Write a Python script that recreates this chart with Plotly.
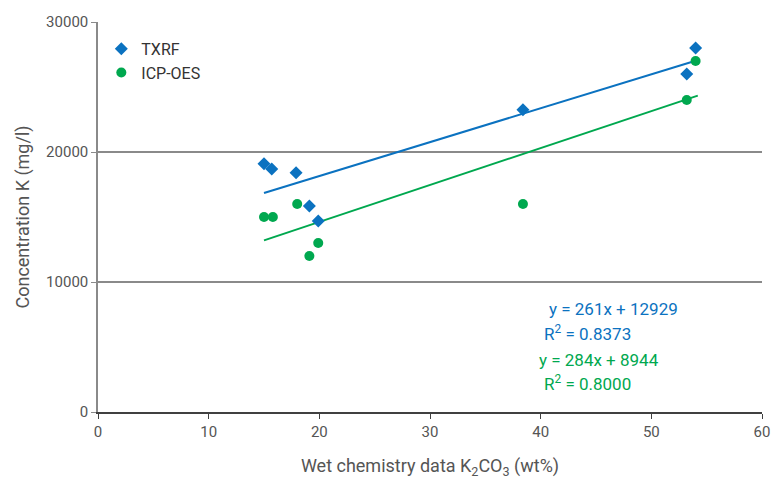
import plotly.graph_objects as go
import numpy as np

# Data
txrf_x = [15.0, 15.7, 17.9, 19.1, 19.9, 38.4, 53.2, 54.0]
txrf_y = [19100, 18700, 18400, 15850, 14700, 23250, 26000, 28000]
icp_x = [15.0, 15.8, 18.0, 19.1, 19.9, 38.4, 53.2, 54.0]
icp_y = [15000, 15000, 16000, 12000, 13000, 16000, 24000, 27000]

txrf_fit = (261, 12929)
icp_fit = (284, 8944)
txrf_r2 = "0.8373"
icp_r2 = "0.8000"

x_ticks = [0, 10, 20, 30, 40, 50, 60]
y_ticks = [0, 10000, 20000, 30000]
y_ticktext = ["0", "10000", "20000", "30000"]

BLUE = "#0b72c0"
GREEN = "#00a84f"
FONT = "Roboto, Arial, sans-serif"

fig = go.Figure()

fx = np.array([min(txrf_x), max(txrf_x)])
fig.add_trace(go.Scatter(x=fx, y=txrf_fit[0] * fx + txrf_fit[1], mode="lines",
                         line=dict(color=BLUE, width=2), showlegend=False, hoverinfo="skip"))
gx = np.array([min(icp_x), max(icp_x) + 0.2])
fig.add_trace(go.Scatter(x=gx, y=icp_fit[0] * gx + icp_fit[1], mode="lines",
                         line=dict(color=GREEN, width=2), showlegend=False, hoverinfo="skip"))

fig.add_trace(go.Scatter(x=txrf_x, y=txrf_y, mode="markers", name="TXRF",
                         marker=dict(symbol="diamond", size=10, color=BLUE)))
fig.add_trace(go.Scatter(x=icp_x, y=icp_y, mode="markers", name="ICP-OES",
                         marker=dict(symbol="circle", size=10, color=GREEN)))

fig.add_annotation(x=52.6, y=7920, xref="x", yref="y", text=f"y = {txrf_fit[0]}x + {txrf_fit[1]}",
                   showarrow=False, xanchor="right", font=dict(color=BLUE, size=17, family=FONT))
fig.add_annotation(x=40.1, y=6080, xref="x", yref="y", text=f"R<sup>2</sup> = {txrf_r2}",
                   showarrow=False, xanchor="left", font=dict(color=BLUE, size=17, family=FONT))
fig.add_annotation(x=50.9, y=4000, xref="x", yref="y", text=f"y = {icp_fit[0]}x + {icp_fit[1]}",
                   showarrow=False, xanchor="right", font=dict(color=GREEN, size=17, family=FONT))
fig.add_annotation(x=40.1, y=2230, xref="x", yref="y", text=f"R<sup>2</sup> = {icp_r2}",
                   showarrow=False, xanchor="left", font=dict(color=GREEN, size=17, family=FONT))

fig.update_layout(
    width=771, height=482,
    margin=dict(l=98, r=9, t=22, b=70),
    plot_bgcolor="white", paper_bgcolor="white",
    font=dict(family=FONT, color="#555555", size=14),
    legend=dict(x=0.005, y=0.975, xanchor="left", yanchor="top",
                font=dict(size=16, color="#333333", family=FONT),
                bgcolor="rgba(0,0,0,0)", itemwidth=30, tracegroupgap=0),
    xaxis=dict(range=[0, 60], tickvals=x_ticks, showgrid=False, zeroline=False,
               showline=True, linecolor="#404040", linewidth=1.5, automargin=False,
               ticks="outside", ticklen=5, tickcolor="#404040",
               tickfont=dict(size=15, color="#555555"),
               title=dict(text="Wet chemistry data K<sub>2</sub>CO<sub>3</sub> (wt%)",
                          font=dict(size=18, color="#555555"), standoff=20)),
    yaxis=dict(range=[0, 30000], tickvals=y_ticks, ticktext=y_ticktext, showgrid=True,
               gridcolor="#8a8a8a", automargin=False,
               gridwidth=1.5, zeroline=False, showline=True, linecolor="#8a8a8a", linewidth=1.5,
               ticks="outside", ticklen=5, tickcolor="#8a8a8a",
               tickfont=dict(size=15, color="#555555"),
               title=dict(text="Concentration K (mg/l)", font=dict(size=18, color="#555555"),
                          standoff=12)),
)

fig.write_html("out.html")
